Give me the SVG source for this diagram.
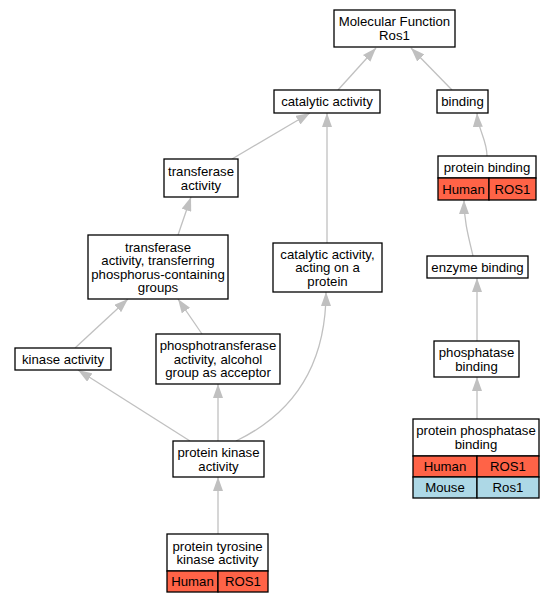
<svg xmlns="http://www.w3.org/2000/svg" width="556" height="603" viewBox="0 0 556 603">
<style>
text{font-family:"Liberation Sans",Arial,sans-serif;font-size:13.2px;fill:#000;text-anchor:middle}
.n{fill:#fff;stroke:#000;stroke-width:1.3}
.h{fill:#ff6347;stroke:#000;stroke-width:1.3}
.m{fill:#add8e6;stroke:#000;stroke-width:1.3}
.e{fill:none;stroke:#c0c0c0;stroke-width:1.3;marker-end:url(#a)}
</style>
<defs>
<marker id="a" markerUnits="userSpaceOnUse" viewBox="0 0 14 10" markerWidth="14" markerHeight="10" refX="14" refY="5" orient="auto">
<path d="M0,0 L14,5 L0,10 z" fill="#c0c0c0"/>
</marker>
</defs>
<g id="edges">
<path class="e" d="M338,90 L376,48"/>
<path class="e" d="M452,90 L411,48"/>
<path class="e" d="M232,159 L310,113"/>
<path class="e" d="M327,243 L327,113"/>
<path class="e" d="M487,156 C487,140 478,130 477,113"/>
<path class="e" d="M178,235 L191,197"/>
<path class="e" d="M473,256 C468,235 464,220 464,200"/>
<path class="e" d="M75,348 L128,299"/>
<path class="e" d="M202,334 L178,299"/>
<path class="e" d="M477,341 L477,278"/>
<path class="e" d="M190,441 L78,370"/>
<path class="e" d="M218,441 L218,384"/>
<path class="e" d="M236,441 C290,415 326,370 326,292"/>
<path class="e" d="M477,419 L477,377"/>
<path class="e" d="M218,534 L218,477"/>
</g>
<g id="mf">
<rect class="n" x="334" y="10" width="121" height="37"/>
<text x="394.5" y="26">Molecular Function</text>
<text x="394.5" y="40">Ros1</text>
</g>
<g id="catalytic">
<rect class="n" x="274" y="90" width="106" height="23"/>
<text x="327" y="106">catalytic activity</text>
</g>
<g id="binding">
<rect class="n" x="437" y="90" width="51" height="23"/>
<text x="462.5" y="106">binding</text>
</g>
<g id="transferase">
<rect class="n" x="164" y="159" width="74" height="38"/>
<text x="201" y="176">transferase</text>
<text x="201" y="189.5">activity</text>
</g>
<g id="proteinbinding">
<rect class="n" x="438" y="156" width="98" height="22"/>
<rect class="h" x="438" y="178" width="51" height="22"/>
<rect class="h" x="489" y="178" width="47" height="22"/>
<text x="487" y="171.7">protein binding</text>
<text x="463.5" y="193.7">Human</text>
<text x="512.5" y="193.7">ROS1</text>
</g>
<g id="ttpcg">
<rect class="n" x="88" y="235" width="140" height="64"/>
<text x="158" y="251.5">transferase</text>
<text x="158" y="265">activity, transferring</text>
<text x="158" y="278.5">phosphorus-containing</text>
<text x="158" y="292">groups</text>
</g>
<g id="caaop">
<rect class="n" x="273" y="243" width="109" height="49"/>
<text x="327.5" y="258.7">catalytic activity,</text>
<text x="327.5" y="272.2">acting on a</text>
<text x="327.5" y="285.7">protein</text>
</g>
<g id="enzymebinding">
<rect class="n" x="427" y="256" width="101" height="22"/>
<text x="477.5" y="271.7">enzyme binding</text>
</g>
<g id="kinase">
<rect class="n" x="15" y="348" width="96" height="22"/>
<text x="63" y="363.7">kinase activity</text>
</g>
<g id="phospho">
<rect class="n" x="156" y="334" width="124" height="50"/>
<text x="218" y="350.2">phosphotransferase</text>
<text x="218" y="363.7">activity, alcohol</text>
<text x="218" y="377.2">group as acceptor</text>
</g>
<g id="phosphatasebinding">
<rect class="n" x="434" y="341" width="85" height="36"/>
<text x="476.5" y="357">phosphatase</text>
<text x="476.5" y="370.5">binding</text>
</g>
<g id="proteinkinase">
<rect class="n" x="173" y="441" width="91" height="36"/>
<text x="218.5" y="457">protein kinase</text>
<text x="218.5" y="470.5">activity</text>
</g>
<g id="ppb">
<rect class="n" x="413" y="419" width="126" height="37"/>
<rect class="h" x="413" y="456" width="64" height="21"/>
<rect class="h" x="477" y="456" width="62" height="21"/>
<rect class="m" x="413" y="477" width="64" height="21"/>
<rect class="m" x="477" y="477" width="62" height="21"/>
<text x="476" y="435">protein phosphatase</text>
<text x="476" y="448.5">binding</text>
<text x="445" y="471.2">Human</text>
<text x="508" y="471.2">ROS1</text>
<text x="445" y="492.2">Mouse</text>
<text x="508" y="492.2">Ros1</text>
</g>
<g id="ptk">
<rect class="n" x="167" y="534" width="101" height="37"/>
<rect class="h" x="167" y="571" width="51" height="21"/>
<rect class="h" x="218" y="571" width="50" height="21"/>
<text x="217.5" y="550.5">protein tyrosine</text>
<text x="217.5" y="564">kinase activity</text>
<text x="192.5" y="586.2">Human</text>
<text x="243" y="586.2">ROS1</text>
</g>
</svg>
